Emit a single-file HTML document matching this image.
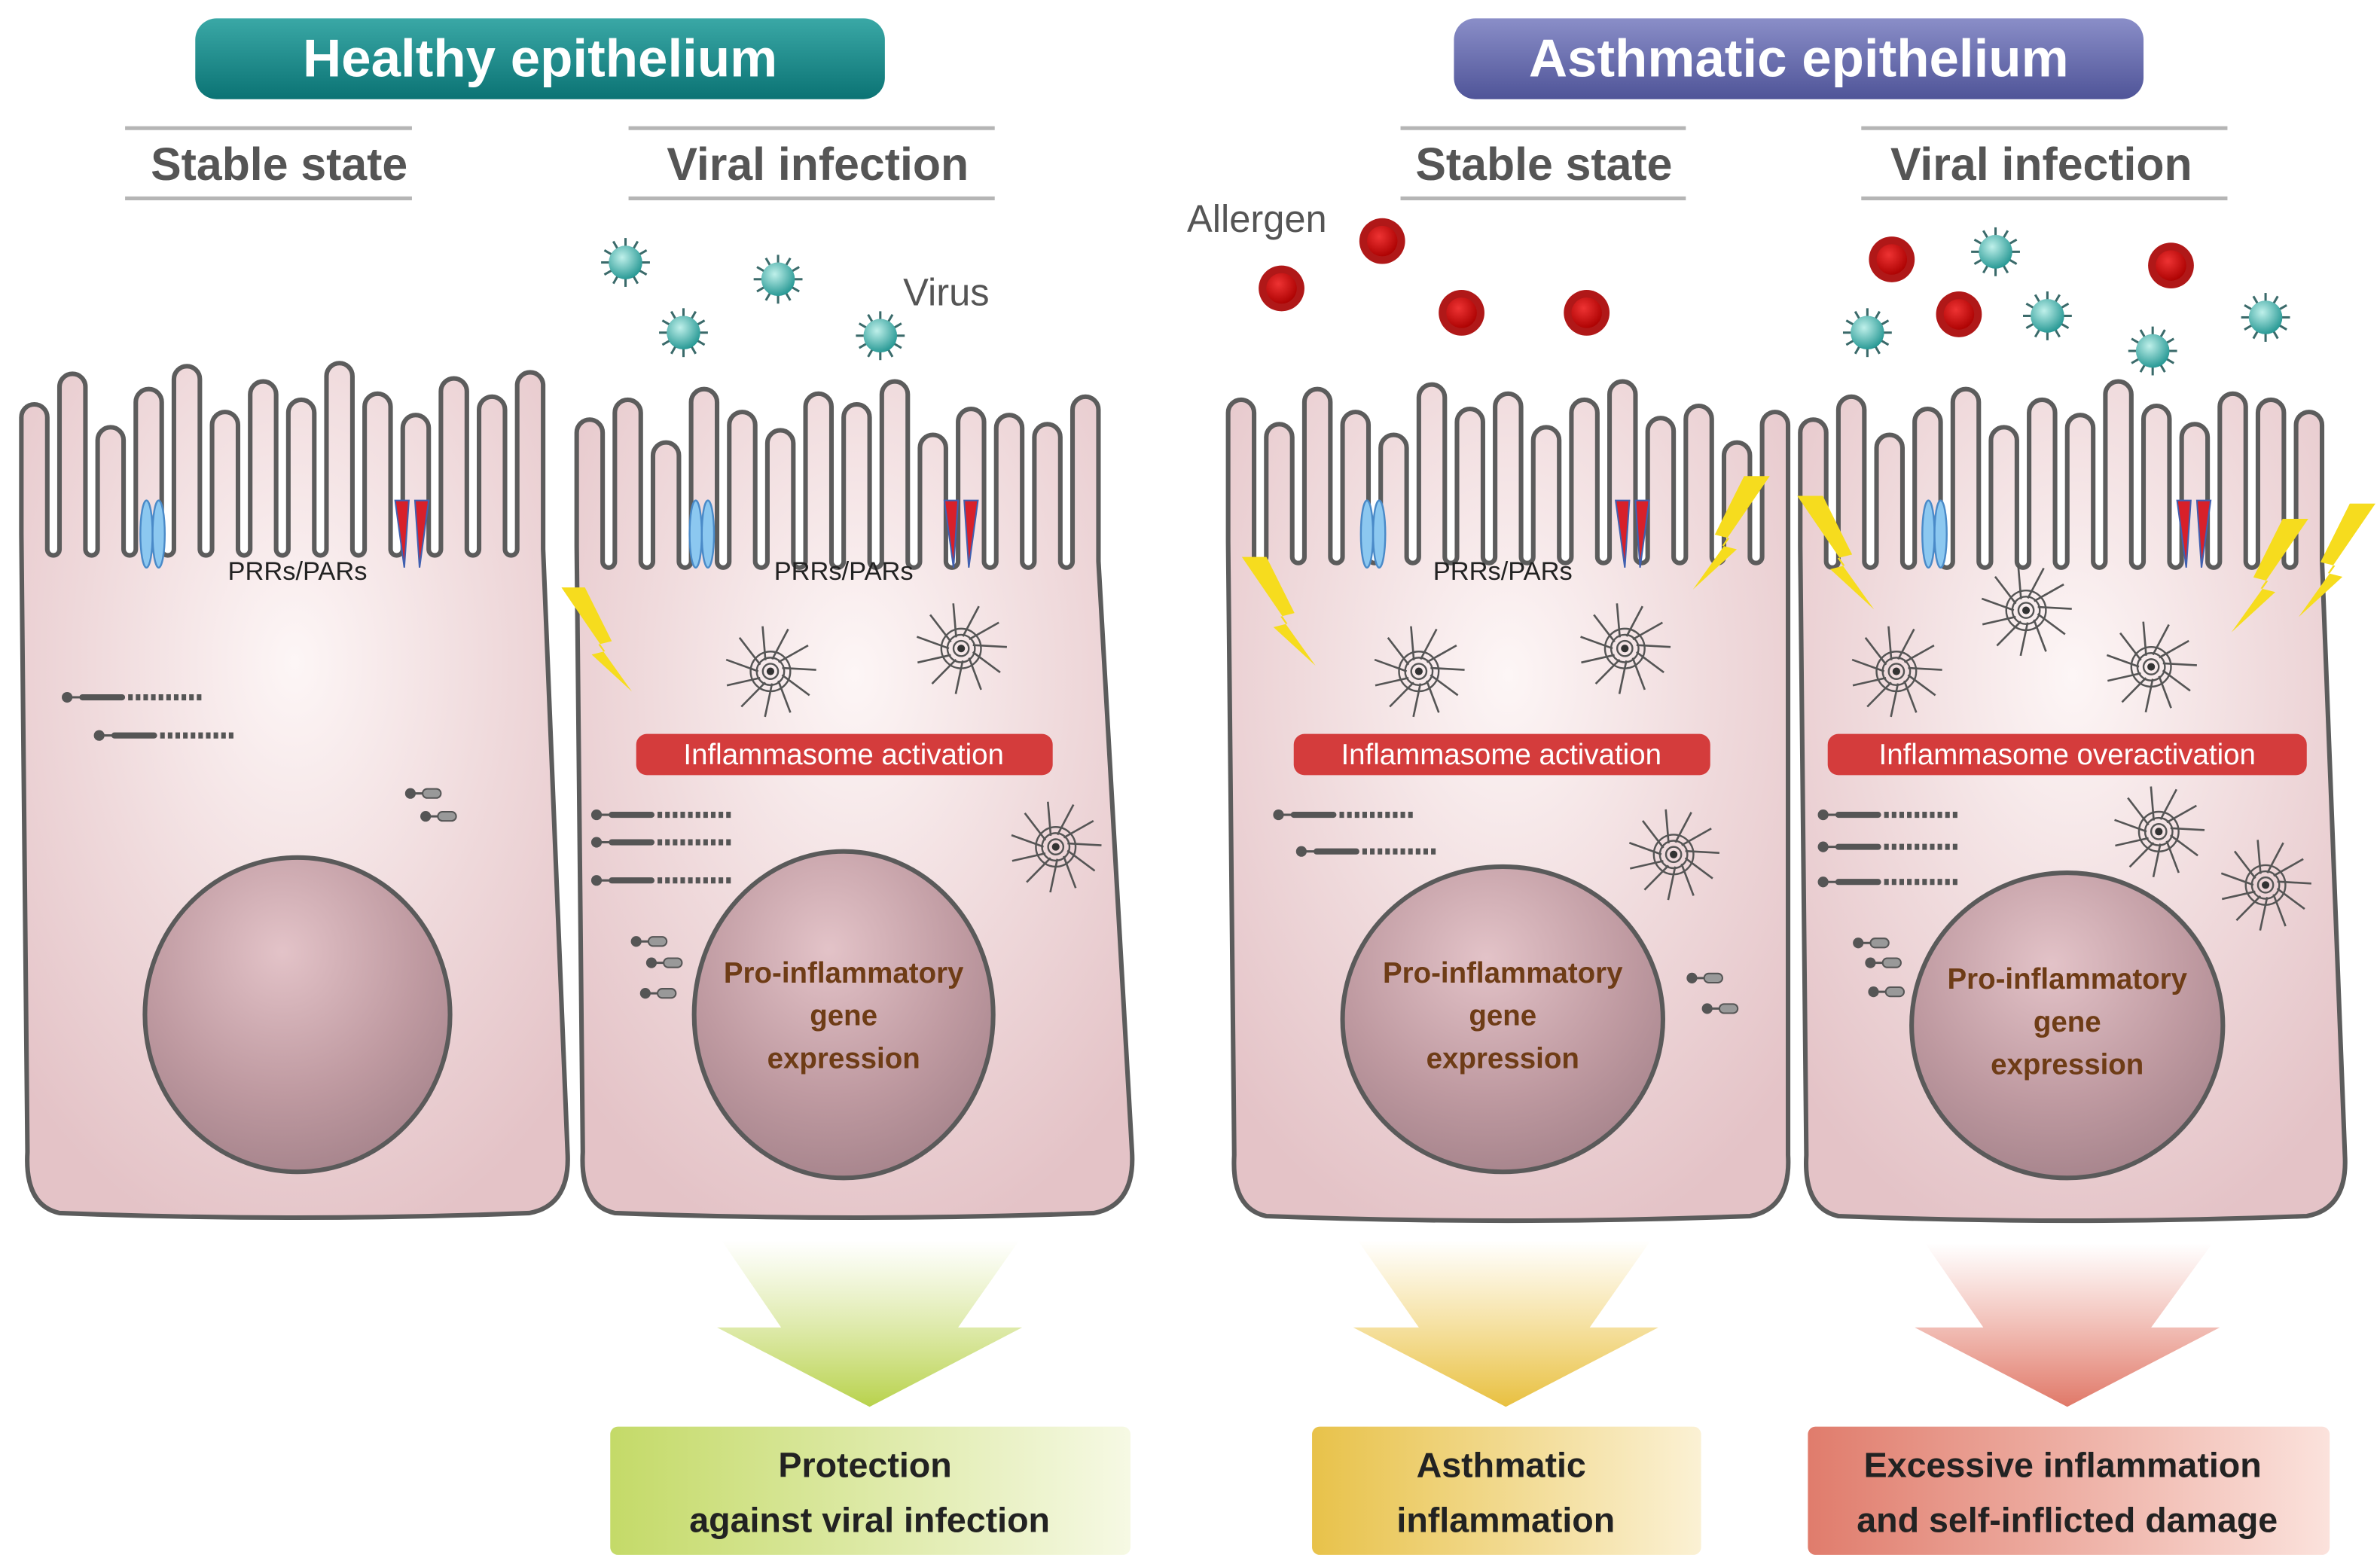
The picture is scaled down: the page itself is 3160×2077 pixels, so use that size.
<!DOCTYPE html>
<html><head><meta charset="utf-8"><style>
html,body{margin:0;padding:0;background:#fff;}
svg{display:block;}
text{font-family:"Liberation Sans",sans-serif;}
</style></head><body>
<svg id="s" width="3160" height="2077" viewBox="0 0 1560 1025" preserveAspectRatio="none" xmlns="http://www.w3.org/2000/svg">
<defs>
<linearGradient id="teal" x1="0" y1="0" x2="0" y2="1"><stop offset="0" stop-color="#3aa8a6"/><stop offset="1" stop-color="#0b7374"/></linearGradient>
<linearGradient id="purp" x1="0" y1="0" x2="0" y2="1"><stop offset="0" stop-color="#8a8ec8"/><stop offset="1" stop-color="#4f5498"/></linearGradient>
<radialGradient id="cellg" cx="0.5" cy="0.35" r="0.7"><stop offset="0" stop-color="#fdf6f6"/><stop offset="0.55" stop-color="#efd9db"/><stop offset="1" stop-color="#e4c3c7"/></radialGradient>
<radialGradient id="nuc" cx="0.45" cy="0.3" r="0.75"><stop offset="0" stop-color="#e3c3c8"/><stop offset="0.6" stop-color="#bf9aa1"/><stop offset="1" stop-color="#a4828a"/></radialGradient>
<radialGradient id="vir" cx="0.4" cy="0.35" r="0.7"><stop offset="0" stop-color="#bff0ea"/><stop offset="1" stop-color="#1f9490"/></radialGradient>
<radialGradient id="all" cx="0.4" cy="0.35" r="0.7"><stop offset="0" stop-color="#e33"/><stop offset="1" stop-color="#a00"/></radialGradient>
<linearGradient id="ag1" x1="0" y1="0" x2="0" y2="1"><stop offset="0" stop-color="#c8dc70" stop-opacity="0"/><stop offset="1" stop-color="#b8d24c"/></linearGradient>
<linearGradient id="ag2" x1="0" y1="0" x2="0" y2="1"><stop offset="0" stop-color="#f0c850" stop-opacity="0"/><stop offset="1" stop-color="#e8c040"/></linearGradient>
<linearGradient id="ag3" x1="0" y1="0" x2="0" y2="1"><stop offset="0" stop-color="#e88878" stop-opacity="0"/><stop offset="1" stop-color="#e07868"/></linearGradient>
<linearGradient id="bg1" x1="0" y1="0" x2="1" y2="0"><stop offset="0" stop-color="#c4da68"/><stop offset="1" stop-color="#f6f9e4"/></linearGradient>
<linearGradient id="bg2" x1="0" y1="0" x2="1" y2="0"><stop offset="0" stop-color="#e8c24a"/><stop offset="1" stop-color="#fbf1d4"/></linearGradient>
<linearGradient id="bg3" x1="0" y1="0" x2="1" y2="0"><stop offset="0" stop-color="#e07c6c"/><stop offset="1" stop-color="#fbe2dc"/></linearGradient>
</defs>
<g id="cells"></g>
<g id="deco"></g>

<rect x="128" y="12" width="452" height="53" rx="14" fill="url(#teal)"/>
<text x="354" y="50" font-size="35" font-weight="bold" fill="#fff" text-anchor="middle">Healthy epithelium</text>
<rect x="953" y="12" width="452" height="53" rx="14" fill="url(#purp)"/>
<text x="1179" y="50" font-size="35" font-weight="bold" fill="#fff" text-anchor="middle">Asthmatic epithelium</text>
<g stroke="#b5b5b5" stroke-width="2.5">
<line x1="82" y1="84" x2="270" y2="84"/><line x1="82" y1="130" x2="270" y2="130"/>
<line x1="412" y1="84" x2="652" y2="84"/><line x1="412" y1="130" x2="652" y2="130"/>
<line x1="918" y1="84" x2="1105" y2="84"/><line x1="918" y1="130" x2="1105" y2="130"/>
<line x1="1220" y1="84" x2="1460" y2="84"/><line x1="1220" y1="130" x2="1460" y2="130"/>
</g>
<g font-size="30" font-weight="bold" fill="#555" text-anchor="middle">
<text x="183" y="118">Stable state</text><text x="536" y="118">Viral infection</text>
<text x="1012" y="118">Stable state</text><text x="1338" y="118">Viral infection</text>
</g>
<text x="592" y="200" font-size="25" fill="#555">Virus</text>
<text x="778" y="152" font-size="25" fill="#555">Allergen</text>

<g font-size="17" fill="#222" text-anchor="middle">
<text x="195" y="380">PRRs/PARs</text><text x="553" y="380">PRRs/PARs</text><text x="985" y="380">PRRs/PARs</text>
</g>

<g fill="#d43c3c">
<rect x="417" y="481" width="273" height="27" rx="7"/>
<rect x="848" y="481" width="273" height="27" rx="7"/>
<rect x="1198" y="481" width="314" height="27" rx="7"/>
</g>
<g font-size="19" fill="#fff" text-anchor="middle">
<text x="553" y="501">Inflammasome activation</text>
<text x="984" y="501">Inflammasome activation</text>
<text x="1355" y="501">Inflammasome overactivation</text>
</g>

<path d="M473 813 L668 813 L628 870 L670 870 L570 922 L470 870 L512 870 Z" fill="url(#ag1)"/>
<path d="M890 813 L1082 813 L1042 870 L1087 870 L987 922 L887 870 L930 870 Z" fill="url(#ag2)"/>
<path d="M1262 815 L1450 815 L1410 870 L1455 870 L1355 922 L1255 870 L1300 870 Z" fill="url(#ag3)"/>

<rect x="400" y="935" width="341" height="84" rx="5" fill="url(#bg1)"/>
<rect x="860" y="935" width="255" height="84" rx="5" fill="url(#bg2)"/>
<rect x="1185" y="935" width="342" height="84" rx="5" fill="url(#bg3)"/>
<g font-size="23" font-weight="bold" fill="#222" text-anchor="middle">
<text x="567" y="968">Protection</text><text x="570" y="1004">against viral infection</text>
<text x="984" y="968">Asthmatic</text><text x="987" y="1004">inflammation</text>
<text x="1352" y="968">Excessive inflammation</text><text x="1355" y="1004">and self-inflicted damage</text>
</g>
<g id="top"></g>
<script>
var NS="http://www.w3.org/2000/svg";
function el(p,t,a){var e=document.createElementNS(NS,t);for(var k in a)e.setAttribute(k,a[k]);p.appendChild(e);return e;}
var cells=document.getElementById('cells'),deco=document.getElementById('deco'),top_=document.getElementById('top');
function cell(xl,xr,vb,yb,tops){
 var w=17,g=8,r=w/2;
 var d="M"+(xl+25)+" "+yb+" Q"+(xl+2)+" "+(yb-5)+" "+(xl+4)+" "+(yb-40)+" L"+xl+" "+(vb-10);
 var x=xl,i=0;
 while(x+w<=xr){var yt=tops[i%tops.length];
  d+=" L"+x+" "+(yt+r)+" A"+r+" "+r+" 0 0 1 "+(x+w)+" "+(yt+r)+" L"+(x+w)+" "+vb;
  if(x+w+g+w<=xr){d+=" A"+(g/2)+" "+(g/2)+" 0 0 0 "+(x+w+g)+" "+vb;}
  x+=w+g;i++;}
 d+=" L"+xr+" "+(yb-40)+" Q"+(xr+2)+" "+(yb-5)+" "+(xr-25)+" "+yb+" Q"+((xl+xr)/2)+" "+(yb+6)+" "+(xl+25)+" "+yb+" Z";
 el(cells,'path',{d:d,fill:'url(#cellg)',stroke:'#5c5c5c','stroke-width':3,'stroke-linejoin':'round'});
}
cell(14,372,360,795,[265,245,280,255,240,270,250,262,238,258,272,248,260,244,255]);
cell(378,742,368,795,[275,262,290,255,270,282,258,265,250,285,268,272,278,260,270]);
cell(805,1172,365,797,[262,278,255,270,285,252,268,258,280,262,250,274,266,290,270]);
cell(1180,1537,368,797,[275,260,285,268,255,280,262,272,250,266,278,258,262,270,265]);
[[195,665,100,103],[553,665,98,107],[985,668,105,100],[1355,672,102,100]].forEach(function(n){
 el(cells,'ellipse',{cx:n[0],cy:n[1],rx:n[2],ry:n[3],fill:'url(#nuc)',stroke:'#5a5a5a','stroke-width':3});});
[553,985,1355].forEach(function(cx,i){var dy=i==2?4:0;
 ['Pro-inflammatory','gene','expression'].forEach(function(t,j){
  var e=el(top_,'text',{x:cx,y:644+dy+j*28,'font-size':19,'font-weight':'bold',fill:'#6e3c16','text-anchor':'middle'});e.textContent=t;});});
[100,460,900,1268].forEach(function(x){
 el(deco,'ellipse',{cx:x-4,cy:350,rx:4,ry:22,fill:'#8cc8f0',stroke:'#4a8ac8','stroke-width':1.2});
 el(deco,'ellipse',{cx:x+4,cy:350,rx:4,ry:22,fill:'#8cc8f0',stroke:'#4a8ac8','stroke-width':1.2});});
[270,630,1070,1438].forEach(function(x){
 el(deco,'path',{d:"M"+(x-11)+" 328 L"+(x-2)+" 328 L"+(x-5)+" 372 Z M"+(x+2)+" 328 L"+(x+11)+" 328 L"+(x+5)+" 372 Z",fill:'#d8202a',stroke:'#4060b0','stroke-width':1});});
[[410,172],[510,183],[448,218],[577,220],[1308,165],[1224,218],[1342,207],[1411,230],[1485,208]].forEach(function(v){
 for(var a=0;a<12;a++){var t=a*Math.PI/6;
  el(deco,'line',{x1:v[0]+Math.cos(t)*9,y1:v[1]+Math.sin(t)*9,x2:v[0]+Math.cos(t)*16,y2:v[1]+Math.sin(t)*16,stroke:'#3a6a6a','stroke-width':1.5});}
 el(deco,'circle',{cx:v[0],cy:v[1],r:11,fill:'url(#vir)'});});
[[906,158],[840,189],[958,205],[1040,205],[1240,170],[1284,206],[1423,174]].forEach(function(v){
 el(deco,'circle',{cx:v[0],cy:v[1],r:15,fill:'#b01818'});el(deco,'circle',{cx:v[0],cy:v[1],r:10,fill:'url(#all)'});});
function bolt(x,y,s,flip){var p=[[0,0],[14,0],[30,32],[22,34],[42,62],[18,40],[26,38]];
 var d="M"+p.map(function(q){return (x+(flip?-q[0]:q[0])*s)+" "+(y+q[1]*s);}).join(" L")+" Z";
 el(top_,'path',{d:d,fill:'#f6dc1e'});}
bolt(368,385,1.1,false);bolt(814,365,1.15,false);bolt(1160,312,1.2,true);bolt(1178,325,1.2,false);bolt(1513,340,1.2,true);bolt(1557,330,1.2,true);
[[505,440],[630,425],[692,555],[930,440],[1065,425],[1097,560],[1243,440],[1328,400],[1410,437],[1415,545],[1485,580]].forEach(function(c){
 for(var a=0;a<11;a++){var t=a*0.57+0.3;
  el(deco,'line',{x1:c[0]+Math.cos(t)*8,y1:c[1]+Math.sin(t)*8,x2:c[0]+Math.cos(t+0.25)*30,y2:c[1]+Math.sin(t+0.25)*30,stroke:'#555','stroke-width':1.3});}
 [13,9,5].forEach(function(r){el(deco,'circle',{cx:c[0],cy:c[1],r:r,fill:'none',stroke:'#555','stroke-width':1.2});});
 el(deco,'circle',{cx:c[0],cy:c[1],r:2.5,fill:'#333'});});
function strand(x,y){el(deco,'circle',{cx:x,cy:y,r:3.5,fill:'#555'});
 el(deco,'line',{x1:x,y1:y,x2:x+10,y2:y,stroke:'#555','stroke-width':1.5});
 el(deco,'line',{x1:x+10,y1:y,x2:x+36,y2:y,stroke:'#555','stroke-width':4,'stroke-linecap':'round'});
 el(deco,'line',{x1:x+40,y1:y,x2:x+90,y2:y,stroke:'#555','stroke-width':4,'stroke-dasharray':'3 2'});}
[[44,457],[65,482],[391,534],[391,552],[391,577],[838,534],[853,558],[1195,534],[1195,555],[1195,578]].forEach(function(s){strand(s[0],s[1]);});
function small(x,y){el(deco,'circle',{cx:x,cy:y,r:3.5,fill:'#555'});
 el(deco,'line',{x1:x,y1:y,x2:x+8,y2:y,stroke:'#555','stroke-width':1.5});
 el(deco,'rect',{x:x+8,y:y-3,width:12,height:6,rx:3,fill:'#999',stroke:'#555','stroke-width':1});}
[[269,520],[279,535],[417,617],[427,631],[423,651],[1109,641],[1119,661],[1218,618],[1226,631],[1228,650]].forEach(function(s){small(s[0],s[1]);});
</script>
</svg>
</body></html>
